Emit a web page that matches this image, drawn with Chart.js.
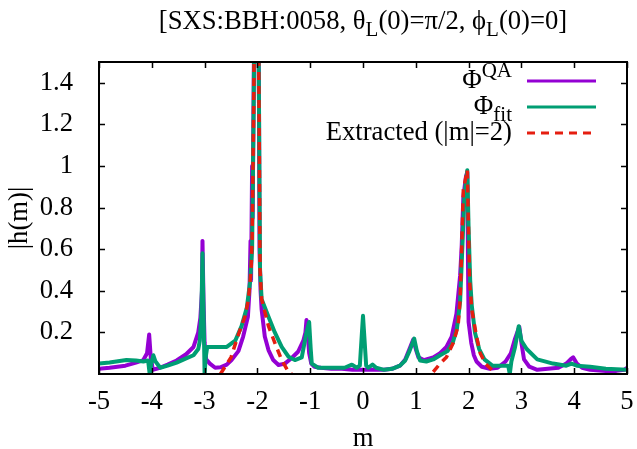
<!DOCTYPE html>
<html><head><meta charset="utf-8">
<script src="https://cdn.jsdelivr.net/npm/chart.js@4"></script>
<style>html,body{margin:0;padding:0;background:#fff;}</style>
</head><body>
<canvas id="c" width="637" height="449"></canvas>
<script>
// ---- data ----
const titleText = '[SXS:BBH:0058, θ_L(0)=π/2, ϕ_L(0)=0]';
const xTitle = 'm';
const yTitle = '|h(m)|';
const seriesLabels = ['Φ^{QA}', 'Φ_{fit}', 'Extracted (|m|=2)'];
const xTickValues = [-5,-4,-3,-2,-1,0,1,2,3,4,5];
const yTickValues = [0,0.2,0.4,0.6,0.8,1,1.2,1.4];

const mQA = [-5.00,-4.80,-4.50,-4.30,-4.16,-4.09,-4.05,-4.02,-3.98,-3.85,-3.70,-3.53,-3.35,-3.21,-3.12,-3.08,-3.05,-3.04,-3.02,-3.00,-2.97,-2.90,-2.80,-2.70,-2.58,-2.49,-2.36,-2.27,-2.18,-2.15,-2.13,-2.12,-2.10,-2.09,-2.07,-2.015,-1.97,-1.96,-1.94,-1.92,-1.86,-1.79,-1.70,-1.60,-1.48,-1.35,-1.23,-1.13,-1.09,-1.07,-1.05,-1.02,-0.98,-0.92,-0.80,-0.60,-0.40,-0.20,0.00,0.20,0.40,0.55,0.70,0.80,0.88,0.95,1.00,1.05,1.15,1.33,1.46,1.58,1.68,1.77,1.84,1.87,1.90,1.95,1.975,1.99,2.00,2.05,2.10,2.15,2.25,2.40,2.55,2.70,2.80,2.88,2.96,3.00,3.05,3.15,3.30,3.50,3.70,3.85,3.93,3.98,4.05,4.15,4.30,4.60,4.80,4.95,5.00];
const hQA = [0.025,0.03,0.04,0.055,0.067,0.10,0.19,0.08,0.02,0.03,0.045,0.065,0.095,0.13,0.20,0.27,0.40,0.64,0.35,0.15,0.07,0.05,0.03,0.032,0.045,0.067,0.11,0.18,0.275,0.40,0.64,0.45,1.00,0.75,1.40,3.0,1.30,0.60,0.40,0.31,0.18,0.115,0.067,0.043,0.05,0.077,0.107,0.16,0.20,0.26,0.20,0.10,0.05,0.035,0.03,0.025,0.025,0.02,0.02,0.02,0.02,0.025,0.04,0.07,0.12,0.165,0.12,0.08,0.067,0.08,0.10,0.13,0.18,0.29,0.475,0.62,0.85,0.95,0.97,0.50,0.25,0.15,0.09,0.06,0.035,0.025,0.03,0.06,0.10,0.17,0.227,0.15,0.07,0.035,0.02,0.025,0.03,0.05,0.07,0.08,0.05,0.03,0.02,0.015,0.015,0.02,0.03];

const mFit = [-5.00,-4.80,-4.48,-4.30,-4.16,-4.07,-4.04,-4.01,-3.97,-3.93,-3.84,-3.70,-3.53,-3.35,-3.21,-3.12,-3.09,-3.06,-3.04,-3.02,-3.00,-2.98,-2.95,-2.80,-2.58,-2.42,-2.30,-2.20,-2.14,-2.10,-2.07,-2.015,-1.97,-1.95,-1.92,-1.79,-1.67,-1.54,-1.41,-1.29,-1.16,-1.07,-1.02,-0.99,-0.97,-0.85,-0.60,-0.35,-0.21,-0.12,-0.06,-0.02,0.00,0.02,0.06,0.10,0.18,0.25,0.40,0.55,0.70,0.80,0.88,0.94,0.97,1.02,1.08,1.20,1.33,1.46,1.60,1.70,1.78,1.84,1.88,1.92,1.975,2.00,2.03,2.06,2.12,2.20,2.30,2.45,2.60,2.75,2.78,2.81,2.88,2.95,3.00,3.10,3.30,3.60,3.85,3.95,4.05,4.30,4.60,5.00];
const hFit = [0.05,0.055,0.067,0.065,0.06,0.065,0.0,0.05,0.09,0.06,0.03,0.04,0.055,0.075,0.09,0.12,0.16,0.30,0.58,0.30,0.0,0.08,0.13,0.13,0.13,0.16,0.23,0.32,0.44,0.60,1.30,3.0,1.30,0.50,0.36,0.275,0.20,0.13,0.083,0.067,0.08,0.20,0.25,0.12,0.05,0.03,0.03,0.03,0.045,0.03,0.04,0.20,0.28,0.20,0.04,0.03,0.045,0.03,0.02,0.025,0.04,0.065,0.11,0.15,0.17,0.11,0.065,0.06,0.07,0.09,0.11,0.15,0.22,0.35,0.60,0.85,0.98,0.70,0.45,0.33,0.20,0.12,0.07,0.04,0.04,0.04,0.0,0.06,0.13,0.23,0.16,0.12,0.07,0.05,0.04,0.05,0.04,0.035,0.025,0.02];

const mExt = [-2.70,-2.60,-2.50,-2.36,-2.23,-2.17,-2.12,-2.10,-2.07,-2.015,-1.97,-1.95,-1.92,-1.79,-1.67,-1.54,-1.41,-1.35,0.0,1.33,1.46,1.58,1.71,1.80,1.84,1.87,1.90,1.975,2.00,2.02,2.06,2.15,2.22,2.32,2.48,2.52];
const hExt = [0.0,0.04,0.08,0.19,0.28,0.36,0.50,0.65,1.30,3.0,1.30,0.50,0.36,0.23,0.15,0.067,0.01,0.0,null,0.01,0.05,0.08,0.15,0.23,0.36,0.61,0.885,0.98,0.68,0.44,0.31,0.18,0.10,0.05,0.01,0.0];

const colors = ['#9400d3', '#009e73', '#e51e10'];
const FONT = 'Liberation Serif';
const FS = 26.67;

function pts(xs, ys){ return xs.map((x,i)=>({x:x, y:ys[i]})); }

function parseRich(s){
  const segs=[]; let i=0, buf='';
  while(i<s.length){
    const c=s[i];
    if(c==='^'||c==='_'){
      if(buf){segs.push({t:buf,m:0});buf='';}
      let t;
      if(s[i+1]==='{'){const j=s.indexOf('}',i+2); t=s.slice(i+2,j); i=j+1;}
      else {t=s[i+1]; i+=2;}
      segs.push({t:t, m: c==='^'?1:-1});
    } else {buf+=c;i++;}
  }
  if(buf) segs.push({t:buf,m:0});
  return segs;
}
function drawRich(ctx, s, x, y, size, align){
  const segs=parseRich(s);
  const fontFor = m => (m? Math.round(size*0.8) : size) + 'px ' + FONT;
  let w=0;
  segs.forEach(g=>{ctx.font=fontFor(g.m); g.w=ctx.measureText(g.t).width; w+=g.w;});
  let cx = align==='right'? x-w : (align==='center'? x-w/2 : x);
  ctx.textBaseline='alphabetic'; ctx.textAlign='left'; ctx.fillStyle='#000';
  segs.forEach(g=>{
    ctx.font=fontFor(g.m);
    const dy = g.m===1? -size*0.42 : (g.m===-1? size*0.28 : 0);
    ctx.fillText(g.t, cx, y+dy); cx+=g.w;
  });
}

const decor = {
  id:'decor',
  afterDatasetsDraw(chart){
    const ctx=chart.ctx, a=chart.chartArea, xs=chart.scales.x, ys=chart.scales.y;
    ctx.save();
    ctx.strokeStyle='#000'; ctx.lineWidth=1.5;
    const tl=6;
    ctx.beginPath();
    xTickValues.forEach(v=>{const p=Math.round(xs.getPixelForValue(v))+0.5;
      ctx.moveTo(p,a.bottom); ctx.lineTo(p,a.bottom-tl);
      ctx.moveTo(p,a.top); ctx.lineTo(p,a.top+tl);});
    yTickValues.forEach(v=>{ if(v===0) return; const p=Math.round(ys.getPixelForValue(v))+0.5;
      ctx.moveTo(a.left,p); ctx.lineTo(a.left+tl,p);
      ctx.moveTo(a.right,p); ctx.lineTo(a.right-tl,p);});
    ctx.stroke();
    ctx.lineWidth=2;
    ctx.strokeRect(a.left, a.top, a.right-a.left, a.bottom-a.top);
    drawRich(ctx, titleText, (a.left+a.right)/2, 29, FS, 'center');
    const rows=[81,107,133];
    chart.data.datasets.forEach((d,i)=>{
      const y=rows[i];
      drawRich(ctx, d.label, 512, y+7, FS, 'right');
      ctx.beginPath();
      ctx.strokeStyle=d.borderColor; ctx.lineWidth=3;
      ctx.setLineDash(d.borderDash||[]);
      ctx.moveTo(527,y); ctx.lineTo(596,y); ctx.stroke();
      ctx.setLineDash([]);
    });
    ctx.restore();
  }
};

const chart = new Chart(document.getElementById('c'), {
  type:'line',
  data:{ datasets:[
    {label:seriesLabels[0], data:pts(mQA,hQA), borderColor:colors[0], borderWidth:4, order:3},
    {label:seriesLabels[1], data:pts(mFit,hFit), borderColor:colors[1], borderWidth:4, order:2},
    {label:seriesLabels[2], data:pts(mExt,hExt), borderColor:colors[2], borderWidth:3.5, borderDash:[8,6], order:1, spanGaps:false}
  ]},
  options:{
    responsive:false, animation:false, devicePixelRatio:1,
    layout:{padding:{left:0,right:10,top:62,bottom:0}},
    elements:{point:{radius:0,hoverRadius:0}, line:{tension:0, borderJoinStyle:'round', fill:false}},
    plugins:{legend:{display:false}, title:{display:false}, tooltip:{enabled:false}},
    events:[],
    scales:{
      x:{type:'linear', min:-5, max:5,
        afterBuildTicks:s=>{s.ticks=xTickValues.map(v=>({value:v}));},
        afterFit:s=>{s.height=75; s.paddingLeft=0; s.paddingRight=0;},
        grid:{display:false}, border:{display:false},
        ticks:{color:'#000', font:{family:FONT,size:FS}, padding:4, maxRotation:0, autoSkip:false},
        title:{display:true, text:xTitle, color:'#000', font:{family:FONT,size:FS}, padding:{top:0,bottom:-6}}
      },
      y:{type:'linear', min:0, max:1.5,
        afterBuildTicks:s=>{s.ticks=yTickValues.map(v=>({value:v}));},
        afterFit:s=>{s.width=99; s.paddingTop=0; s.paddingBottom=0;},
        grid:{display:false}, border:{display:false},
        ticks:{color:'#000', font:{family:FONT,size:FS}, padding:18, callback:v=> v===0 ? '' : String(v)},
        title:{display:true, text:yTitle, color:'#000', font:{family:FONT,size:FS}, padding:{top:4,bottom:0}}
      }
    }
  },
  plugins:[decor]
});
if (document.fonts && document.fonts.load) {
  document.fonts.load('24px "Liberation Serif"').then(()=>chart.update('none'));
}
</script>
</body></html>
